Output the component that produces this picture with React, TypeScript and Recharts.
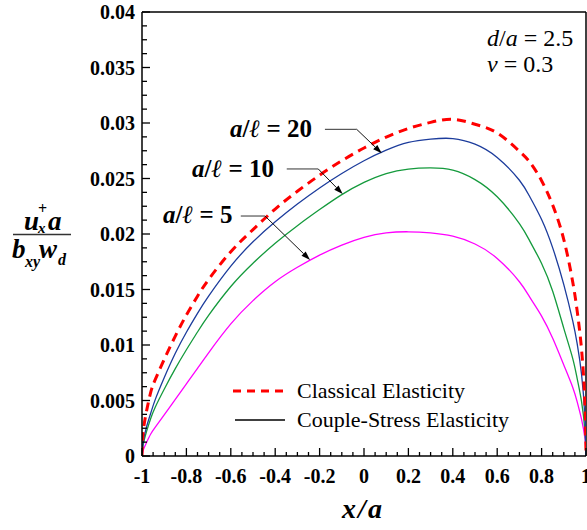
import React from 'react';
import { LineChart, Line, XAxis, YAxis, ReferenceLine } from 'recharts';

const xValues = [-1, -0.995, -0.98, -0.96, -0.94, -0.9, -0.85, -0.8, -0.75, -0.7, -0.6, -0.5, -0.4, -0.3, -0.2, -0.1, 0, 0.1, 0.2, 0.3, 0.4, 0.5, 0.6, 0.7, 0.75, 0.8, 0.85, 0.9, 0.94, 0.96, 0.98, 0.995, 1];
const classical = [0, 0.0021, 0.004, 0.0058, 0.0069, 0.0087, 0.0108, 0.0127, 0.0144, 0.0159, 0.0184, 0.0204, 0.02225, 0.02385, 0.0253, 0.0266, 0.02775, 0.02873, 0.02951, 0.03006, 0.03034, 0.02989, 0.0291, 0.02745, 0.0264, 0.0248, 0.0226, 0.0195, 0.0157, 0.0131, 0.0096, 0.0048, 0];
const ratio20 = [0, 0.0012, 0.0026, 0.0039, 0.0051, 0.00705, 0.00925, 0.01115, 0.01285, 0.0144, 0.0171, 0.0193, 0.0211, 0.0227, 0.02415, 0.02545, 0.0266, 0.02755, 0.02825, 0.02855, 0.0286, 0.0281, 0.0269, 0.02484, 0.02324, 0.0213, 0.01875, 0.01544, 0.0122, 0.01015, 0.00735, 0.0035, 0];
const ratio10 = [0, 0.00098, 0.00218, 0.00342, 0.00442, 0.00602, 0.00787, 0.00957, 0.01117, 0.01267, 0.01527, 0.01737, 0.01917, 0.02075, 0.0222, 0.02355, 0.02465, 0.02545, 0.02585, 0.02595, 0.02575, 0.0249, 0.02335, 0.02094, 0.01925, 0.01735, 0.01484, 0.0115, 0.0088, 0.007, 0.0049, 0.0023, 0];
const ratio5 = [0, 0.0005, 0.0012, 0.002, 0.0026, 0.0037, 0.0051, 0.0065, 0.0079, 0.0093, 0.0119, 0.014, 0.0157, 0.017, 0.0181, 0.019, 0.0197, 0.0201, 0.0202, 0.0201, 0.0198, 0.0191, 0.0178, 0.0157, 0.0142, 0.0126, 0.0106, 0.0082, 0.0062, 0.0049, 0.0033, 0.0016, 0];

const xMajorTicks = [-1, -0.8, -0.6, -0.4, -0.2, 0, 0.2, 0.4, 0.6, 0.8, 1];
const xTickLabels = ['-1', '-0.8', '-0.6', '-0.4', '-0.2', '0', '0.2', '0.4', '0.6', '0.8', '1'];
const xAllTicks = [-1, -0.95, -0.9, -0.85, -0.8, -0.75, -0.7, -0.65, -0.6, -0.55, -0.5, -0.45, -0.4, -0.35, -0.3, -0.25, -0.2, -0.15, -0.1, -0.05, 0, 0.05, 0.1, 0.15, 0.2, 0.25, 0.3, 0.35, 0.4, 0.45, 0.5, 0.55, 0.6, 0.65, 0.7, 0.75, 0.8, 0.85, 0.9, 0.95, 1];
const yMajorTicks = [0, 0.005, 0.01, 0.015, 0.02, 0.025, 0.03, 0.035, 0.04];
const yTickLabels = ['0', '0.005', '0.01', '0.015', '0.02', '0.025', '0.03', '0.035', '0.04'];
const yAllTicks = [0, 0.00125, 0.0025, 0.00375, 0.005, 0.00625, 0.0075, 0.00875, 0.01, 0.01125, 0.0125, 0.01375, 0.015, 0.01625, 0.0175, 0.01875, 0.02, 0.02125, 0.0225, 0.02375, 0.025, 0.02625, 0.0275, 0.02875, 0.03, 0.03125, 0.0325, 0.03375, 0.035, 0.03625, 0.0375, 0.03875, 0.04];

const data = xValues.map((x, i) => ({ x, classical: classical[i], r20: ratio20[i], r10: ratio10[i], r5: ratio5[i] }));

const FONT = "'Liberation Serif', Tinos, 'Times New Roman', 'DejaVu Serif', serif";
const serif = { fontFamily: FONT } as React.CSSProperties;

const majorIndex = (arr: number[], v: number) => arr.findIndex((t) => Math.abs(t - v) < 1e-9);

const XTick = (props: any) => {
  const { x, y, payload } = props;
  const idx = majorIndex(xMajorTicks, payload.value);
  const major = idx >= 0;
  return (
    <g>
      <line x1={x} y1={y} x2={x} y2={y - (major ? 8 : 4)} stroke="#000" strokeWidth={1.3} />
      {major && (
        <text x={x} y={y + 27} textAnchor="middle" style={serif} fontWeight="bold" fontSize={20} fill="#000">
          {xTickLabels[idx]}
        </text>
      )}
    </g>
  );
};

const YTick = (props: any) => {
  const { x, y, payload } = props;
  const idx = majorIndex(yMajorTicks, payload.value);
  const major = idx >= 0;
  return (
    <g>
      <line x1={x} y1={y} x2={x + (major ? 8 : 5)} y2={y} stroke="#000" strokeWidth={1.3} />
      {major && (
        <text x={x - 7} y={y} dy="0.35em" textAnchor="end" style={serif} fontWeight="bold" fontSize={20} fill="#000">
          {yTickLabels[idx]}
        </text>
      )}
    </g>
  );
};

const PlainShape = (props: any) => {
  const { x1, y1, x2, y2 } = props;
  return <line x1={x1} y1={y1} x2={x2} y2={y2} stroke="#333" strokeWidth={1} />;
};

const ArrowShape = (props: any) => {
  const { x1, y1, x2, y2 } = props;
  const ang = Math.atan2(y2 - y1, x2 - x1);
  const L = 9;
  const W = 3;
  const bx = x2 - L * Math.cos(ang);
  const by = y2 - L * Math.sin(ang);
  const px = -Math.sin(ang) * W;
  const py = Math.cos(ang) * W;
  return (
    <g>
      <line x1={x1} y1={y1} x2={bx} y2={by} stroke="#111" strokeWidth={1} />
      <polygon points={`${x2},${y2} ${bx + px},${by + py} ${bx - px},${by - py}`} fill="#000" />
    </g>
  );
};

export default function App() {
  return (
    <div style={{ position: 'absolute', left: 0, top: 0, width: 587, height: 530, background: '#fff' }}>
      <LineChart width={587} height={530} data={data} margin={{ top: 12, right: 1, bottom: 0, left: 0 }}>
        <XAxis
          dataKey="x"
          type="number"
          domain={[-1, 1]}
          ticks={xAllTicks}
          interval={0}
          height={74}
          tickSize={0}
          tickMargin={0}
          tickLine={false}
          axisLine={{ stroke: '#000', strokeWidth: 1.5 }}
          tick={(p: any) => <XTick {...p} />}
          allowDataOverflow
        />
        <YAxis
          type="number"
          domain={[0, 0.04]}
          ticks={yAllTicks}
          interval={0}
          width={142}
          tickSize={0}
          tickMargin={0}
          tickLine={false}
          axisLine={{ stroke: '#000', strokeWidth: 1.5 }}
          tick={(p: any) => <YTick {...p} />}
          allowDataOverflow
        />
        <ReferenceLine y={0.04} stroke="#000" strokeWidth={1.5} ifOverflow="visible" />
        <ReferenceLine x={1} stroke="#000" strokeWidth={1.5} ifOverflow="visible" />
        <Line dataKey="r5" type="natural" stroke="#ff00ff" strokeWidth={1.3} dot={false} isAnimationActive={false} />
        <Line dataKey="r10" type="natural" stroke="#149a3c" strokeWidth={1.3} dot={false} isAnimationActive={false} />
        <Line dataKey="r20" type="natural" stroke="#1c3c9c" strokeWidth={1.3} dot={false} isAnimationActive={false} />
        <Line dataKey="classical" type="natural" stroke="#ff0000" strokeWidth={3} strokeDasharray="9 6" dot={false} isAnimationActive={false} />
        <ReferenceLine segment={[{ x: -0.176, y: 0.02943 }, { x: -0.033, y: 0.02943 }]} shape={(p: any) => <PlainShape {...p} />} />
        <ReferenceLine segment={[{ x: -0.033, y: 0.02943 }, { x: 0.08, y: 0.02727 }]} shape={(p: any) => <ArrowShape {...p} />} />
        <ReferenceLine segment={[{ x: -0.348, y: 0.02586 }, { x: -0.206, y: 0.02586 }]} shape={(p: any) => <PlainShape {...p} />} />
        <ReferenceLine segment={[{ x: -0.206, y: 0.02586 }, { x: -0.096, y: 0.0236 }]} shape={(p: any) => <ArrowShape {...p} />} />
        <ReferenceLine segment={[{ x: -0.555, y: 0.02162 }, { x: -0.446, y: 0.02162 }]} shape={(p: any) => <PlainShape {...p} />} />
        <ReferenceLine segment={[{ x: -0.446, y: 0.02162 }, { x: -0.243, y: 0.01766 }]} shape={(p: any) => <ArrowShape {...p} />} />
      </LineChart>
      <svg width={587} height={530} style={{ position: 'absolute', left: 0, top: 0, pointerEvents: 'none' }}>
        <g style={serif} fill="#000">
          {/* y-axis label fraction */}
          <text x={24} y={230} fontSize={27} fontWeight="bold" fontStyle="italic">u</text>
          <text x={38} y={214} fontSize={16} fontWeight="bold">+</text>
          <text x={38} y={233} fontSize={15} fontWeight="bold" fontStyle="italic">x</text>
          <text x={48} y={230} fontSize={27} fontWeight="bold" fontStyle="italic">a</text>
          <line x1={13} y1={234.5} x2={71} y2={234.5} stroke="#333" strokeWidth={1.5} />
          <text x={12} y={258} fontSize={27} fontWeight="bold" fontStyle="italic">b</text>
          <text x={25} y={267} fontSize={16} fontWeight="bold" fontStyle="italic">xy</text>
          <text x={39} y={258} fontSize={27} fontWeight="bold" fontStyle="italic">w</text>
          <text x={58} y={265} fontSize={16} fontWeight="bold" fontStyle="italic">d</text>
          {/* x-axis label */}
          <text x={363} y={518} textAnchor="middle" fontSize={28} fontWeight="bold" fontStyle="italic" letterSpacing={2}>x/a</text>
          {/* parameters */}
          <text x={487} y={46} fontSize={24}>
            <tspan fontStyle="italic">d</tspan>/<tspan fontStyle="italic">a</tspan> = 2.5
          </text>
          <text x={487} y={72} fontSize={24}>
            <tspan fontStyle="italic">ν</tspan> = 0.3
          </text>
          {/* curve labels */}
          <text x={230} y={137} fontSize={25} fontWeight="bold">
            <tspan fontStyle="italic">a</tspan>/<tspan fontStyle="italic">ℓ</tspan> = 20
          </text>
          <text x={192} y={177} fontSize={25} fontWeight="bold">
            <tspan fontStyle="italic">a</tspan>/<tspan fontStyle="italic">ℓ</tspan> = 10
          </text>
          <text x={163} y={223} fontSize={25} fontWeight="bold">
            <tspan fontStyle="italic">a</tspan>/<tspan fontStyle="italic">ℓ</tspan> = 5
          </text>
          {/* legend */}
          <line x1={233} y1={391} x2={287} y2={391} stroke="#ff0000" strokeWidth={3} strokeDasharray="8 6" />
          <text x={297} y={398} fontSize={22}>Classical Elasticity</text>
          <line x1={235} y1={420} x2={285} y2={420} stroke="#000" strokeWidth={1.3} />
          <text x={297} y={427} fontSize={22}>Couple-Stress Elasticity</text>
        </g>
      </svg>
    </div>
  );
}
